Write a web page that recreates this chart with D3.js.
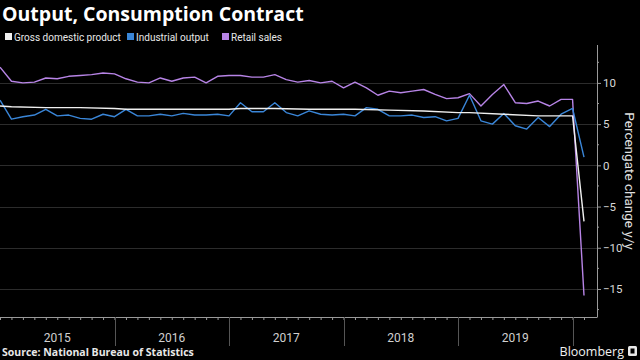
<!DOCTYPE html>
<html><head><meta charset="utf-8">
<script src="https://cdn.jsdelivr.net/npm/d3@7"></script>
<style>
html,body{margin:0;padding:0;background:#000;}
svg{display:block;}
text{font-family:"Open Sans","Liberation Sans",sans-serif;}
</style></head>
<body>
<svg id="chart" width="640" height="360"></svg>
<script>
// Periods: Dec 2014, then Mar..Dec each year (Jan-Feb not shown), then Mar 2020
const years = ["2015", "2016", "2017", "2018", "2019"];
const periods = ["Dec 2014",
  "Mar 2015","Apr 2015","May 2015","Jun 2015","Jul 2015","Aug 2015","Sep 2015","Oct 2015","Nov 2015","Dec 2015",
  "Mar 2016","Apr 2016","May 2016","Jun 2016","Jul 2016","Aug 2016","Sep 2016","Oct 2016","Nov 2016","Dec 2016",
  "Mar 2017","Apr 2017","May 2017","Jun 2017","Jul 2017","Aug 2017","Sep 2017","Oct 2017","Nov 2017","Dec 2017",
  "Mar 2018","Apr 2018","May 2018","Jun 2018","Jul 2018","Aug 2018","Sep 2018","Oct 2018","Nov 2018","Dec 2018",
  "Mar 2019","Apr 2019","May 2019","Jun 2019","Jul 2019","Aug 2019","Sep 2019","Oct 2019","Nov 2019","Dec 2019",
  "Mar 2020"];
const retailSales = [11.9,
  10.2,10.0,10.1,10.6,10.5,10.8,10.9,11.0,11.2,11.1,
  10.5,10.1,10.0,10.6,10.2,10.6,10.7,10.0,10.8,10.9,
  10.9,10.7,10.7,11.0,10.4,10.1,10.3,10.0,10.2,9.4,
  10.1,9.4,8.5,9.0,8.8,9.0,9.2,8.6,8.1,8.2,
  8.7,7.2,8.6,9.8,7.6,7.5,7.8,7.2,8.0,8.0,
  -15.8];
const industrialOutput = [7.9,
  5.6,5.9,6.1,6.8,6.0,6.1,5.7,5.6,6.2,5.9,
  6.8,6.0,6.0,6.2,6.0,6.3,6.1,6.1,6.2,6.0,
  7.6,6.5,6.5,7.6,6.4,6.0,6.6,6.2,6.1,6.2,
  6.0,7.0,6.8,6.0,6.0,6.1,5.8,5.9,5.4,5.7,
  8.5,5.4,5.0,6.3,4.8,4.4,5.8,4.7,6.2,6.9,
  1.0];
// quarterly GDP (null in non-quarter months)
const gdp = [7.2,
  7.1,null,null,7.0,null,null,7.0,null,null,6.9,
  6.8,null,null,6.8,null,null,6.8,null,null,6.8,
  6.9,null,null,6.9,null,null,6.8,null,null,6.8,
  6.8,null,null,6.7,null,null,6.6,null,null,6.4,
  6.4,null,null,6.2,null,null,6.0,null,null,6.0,
  -6.8];
const yTicks = [-15, -10, -5, 0, 5, 10];
const seriesNames = ["Gross domestic product", "Industrial output", "Retail sales"];
const seriesColors = ["#f0f0f0", "#3a86d8", "#b784e6"];

const svg = d3.select("#chart");
const pLeft = 0, pRight = 597, pTop = 45, pBottom = 317;
const x = d3.scaleLinear().domain([0, periods.length - 1]).range([0, 584]);
const y = d3.scaleLinear().domain([-18.4, 14.6]).range([pBottom, pTop]);

// gridlines
svg.append("g").selectAll("line").data(yTicks).join("line")
  .attr("x1", pLeft).attr("x2", pRight)
  .attr("y1", d => Math.round(y(d)) + 0.5).attr("y2", d => Math.round(y(d)) + 0.5)
  .attr("stroke", "#2c2c2c").attr("stroke-width", 1);

// right axis
const yAxis = d3.axisRight(y).tickValues(yTicks).tickSize(4).tickPadding(2).tickFormat(d3.format("d"));
const gy = svg.append("g").attr("transform", `translate(${pRight},0)`).call(yAxis);
gy.select(".domain").attr("stroke", "#9a9a9a").attr("d", `M0.5,${pTop}V${pBottom}`);
gy.selectAll(".tick line").attr("stroke", "#9a9a9a");
gy.selectAll(".tick text").attr("fill", "#d8d8d8").style("font-size", "11.5px")
  .style("font-family", "Roboto, sans-serif");
const minorY = d3.range(-17.5, 14, 2.5).filter(v => !yTicks.includes(v));
gy.append("g").selectAll("line").data(minorY).join("line")
  .attr("x1", 0).attr("x2", 2).attr("y1", d => y(d)).attr("y2", d => y(d))
  .attr("stroke", "#9a9a9a");

// axis title
svg.append("text").attr("transform", `translate(625,181) rotate(90)`)
  .attr("text-anchor", "middle").attr("fill", "#e0e0e0")
  .style("font-size", "13.5px").style("font-family", "Roboto, sans-serif")
  .text("Percengate change y/y");

// bottom axis
svg.append("line").attr("x1", pLeft).attr("x2", pRight + 0.5)
  .attr("y1", pBottom + 0.5).attr("y2", pBottom + 0.5).attr("stroke", "#9a9a9a");
svg.append("g").selectAll("line").data(periods).join("line")
  .attr("x1", (d, i) => x(i) + 0.5).attr("x2", (d, i) => x(i) + 0.5)
  .attr("y1", pBottom).attr("y2", pBottom + 3).attr("stroke", "#9a9a9a");
const sepIdx = years.map((d, i) => 10 * (i + 1));
svg.append("g").selectAll("line").data(sepIdx).join("line")
  .attr("x1", d => Math.round(x(d)) + 0.5).attr("x2", d => Math.round(x(d)) + 0.5)
  .attr("y1", pBottom).attr("y2", 346).attr("stroke", "#555");
svg.append("g").selectAll("text").data(years).join("text")
  .attr("x", (d, i) => x(10 * i + 5)).attr("y", 342)
  .attr("text-anchor", "middle").attr("fill", "#d0d0d0").style("font-size", "12px")
  .style("font-family", "Roboto, sans-serif")
  .text(d => d);

// lines
const line = d3.line().x(d => x(d.i)).y(d => y(d.v));
const toPts = arr => arr.map((v, i) => ({i, v})).filter(d => d.v !== null);
const seriesData = [gdp, industrialOutput, retailSales];
svg.append("g").selectAll("path").data([retailSales, industrialOutput, gdp]).join("path")
  .attr("d", d => line(toPts(d)))
  .attr("fill", "none")
  .attr("stroke", d => seriesColors[seriesData.indexOf(d)])
  .attr("stroke-width", 1.4)
  .attr("stroke-linejoin", "round");

// title
svg.append("text").attr("x", 2).attr("y", 21).attr("fill", "#fff")
  .style("font-size", "19.5px").style("font-weight", "bold")
  .text("Output, Consumption Contract");

// legend
const legX = [5, 127, 222];
const lg = svg.append("g").selectAll("g").data(seriesNames).join("g")
  .attr("transform", (d, i) => `translate(${legX[i]},33)`);
lg.append("rect").attr("width", 7).attr("height", 7).attr("fill", (d, i) => seriesColors[i]);
lg.append("text").attr("x", 9).attr("y", 7.5).attr("fill", "#e8e8e8")
  .style("font-size", "10px").style("font-family", "Roboto, sans-serif").text(d => d);

// footer
svg.append("text").attr("x", 2).attr("y", 356).attr("fill", "#e8e8e8")
  .style("font-size", "10.5px").style("font-weight", "bold")
  .text("Source: National Bureau of Statistics");
svg.append("text").attr("x", 624).attr("y", 356).attr("text-anchor", "end").attr("fill", "#f0f0f0")
  .style("font-size", "12.5px").text("Bloomberg");
svg.append("rect").attr("x", 628).attr("y", 346).attr("width", 9).attr("height", 10).attr("rx", 1.5).attr("fill", "#e8e8e8");
svg.append("rect").attr("x", 630.5).attr("y", 348.5).attr("width", 4).attr("height", 5).attr("fill", "#000");
</script>
</body></html>
